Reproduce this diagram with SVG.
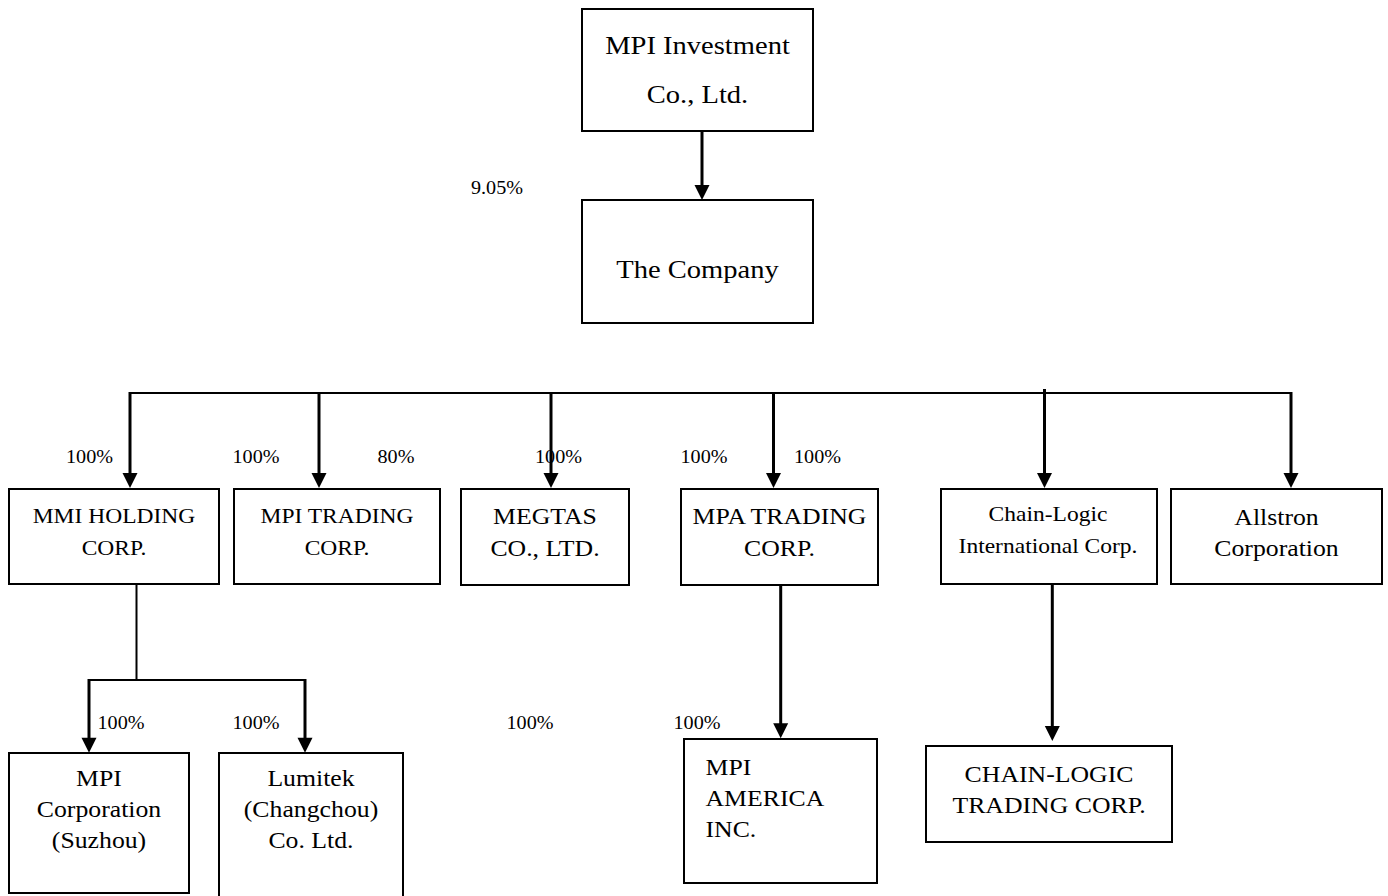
<svg xmlns="http://www.w3.org/2000/svg" width="1388" height="896" viewBox="0 0 1388 896">
<style>
  .box { fill: #ffffff; stroke: #000000; stroke-width: 2; }
  .thin { fill: none; stroke: #000000; stroke-width: 2; }
  .arr { fill: none; stroke: #000000; stroke-width: 3; marker-end: url(#ah); }
  text { font-family: "Liberation Serif", "Times New Roman", serif; fill: #000000; text-anchor: middle; }
  .big { font-size: 25.5px; }
  .n { font-size: 23px; }
  .s { font-size: 21px; }
  .p { font-size: 18px; }
  .l { text-anchor: start; }
</style>
<defs>
  <marker id="ah" markerUnits="userSpaceOnUse" markerWidth="16" markerHeight="16" viewBox="0 0 15 16" refX="5" refY="8" orient="auto">
    <path d="M0,0.5 L15,8 L0,15.5 z" fill="#000000"/>
  </marker>
</defs>

<g id="connectors">
  <line class="arr" x1="702" y1="131" x2="702" y2="190"/>
  <line class="thin" x1="130" y1="393" x2="1291" y2="393"/>
  <line class="arr" x1="130" y1="392" x2="130" y2="478"/>
  <line class="arr" x1="319" y1="393" x2="319" y2="478"/>
  <line class="arr" x1="551" y1="393" x2="551" y2="478"/>
  <line class="arr" x1="773.5" y1="393" x2="773.5" y2="478"/>
  <line class="arr" x1="1044.5" y1="389" x2="1044.5" y2="478"/>
  <line class="arr" x1="1291" y1="392" x2="1291" y2="478"/>
  <path class="thin" d="M136.5,584 V680 M89,680 H305"/>
  <line class="arr" x1="89" y1="679" x2="89" y2="742.7"/>
  <line class="arr" x1="305" y1="679" x2="305" y2="742.7"/>
  <line class="arr" x1="780.7" y1="585" x2="780.7" y2="728.3"/>
  <line class="arr" x1="1052.3" y1="584" x2="1052.3" y2="731"/>
</g>

<g id="labels">
  <text class="p" transform="translate(497,194) scale(1.12,1)">9.05%</text>
  <text class="p" transform="translate(89.5,463) scale(1.12,1)">100%</text>
  <text class="p" transform="translate(256,463) scale(1.12,1)">100%</text>
  <text class="p" transform="translate(396,463) scale(1.12,1)">80%</text>
  <text class="p" transform="translate(558.5,463) scale(1.12,1)">100%</text>
  <text class="p" transform="translate(704,463) scale(1.12,1)">100%</text>
  <text class="p" transform="translate(817.5,463) scale(1.12,1)">100%</text>
  <text class="p" transform="translate(121,729) scale(1.12,1)">100%</text>
  <text class="p" transform="translate(256,729) scale(1.12,1)">100%</text>
  <text class="p" transform="translate(530,729) scale(1.12,1)">100%</text>
  <text class="p" transform="translate(697,729) scale(1.12,1)">100%</text>
</g>

<g id="mpi-investment">
  <rect class="box" x="582" y="9" width="231" height="122"/>
  <text class="big" transform="translate(697.5,54) scale(1.12,1)">MPI Investment</text>
  <text class="big" transform="translate(697.5,103) scale(1.12,1)">Co., Ltd.</text>
</g>

<g id="the-company">
  <rect class="box" x="582" y="200" width="231" height="123"/>
  <text class="big" transform="translate(697.5,278) scale(1.12,1)">The Company</text>
</g>

<g id="mmi-holding">
  <rect class="box" x="9" y="489" width="210" height="95"/>
  <text class="s" transform="translate(114,522.5) scale(1.12,1)">MMI HOLDING</text>
  <text class="s" transform="translate(114,554.5) scale(1.12,1)">CORP.</text>
</g>

<g id="mpi-trading">
  <rect class="box" x="234" y="489" width="206" height="95"/>
  <text class="s" transform="translate(337,522.5) scale(1.12,1)">MPI TRADING</text>
  <text class="s" transform="translate(337,554.5) scale(1.12,1)">CORP.</text>
</g>

<g id="megtas">
  <rect class="box" x="461" y="489" width="168" height="96"/>
  <text class="n" transform="translate(545,524) scale(1.12,1)">MEGTAS</text>
  <text class="n" transform="translate(545,556) scale(1.12,1)">CO., LTD.</text>
</g>

<g id="mpa-trading">
  <rect class="box" x="681" y="489" width="197" height="96"/>
  <text class="n" transform="translate(779.5,524) scale(1.12,1)">MPA TRADING</text>
  <text class="n" transform="translate(779.5,556) scale(1.12,1)">CORP.</text>
</g>

<g id="chain-logic-intl">
  <rect class="box" x="941" y="489" width="216" height="95"/>
  <text class="s" transform="translate(1048,521) scale(1.12,1)">Chain-Logic</text>
  <text class="s" transform="translate(1048,553) scale(1.12,1)">International Corp.</text>
</g>

<g id="allstron">
  <rect class="box" x="1171" y="489" width="211" height="95"/>
  <text class="n" transform="translate(1276.5,525) scale(1.12,1)">Allstron</text>
  <text class="n" transform="translate(1276.5,556) scale(1.12,1)">Corporation</text>
</g>

<g id="mpi-suzhou">
  <rect class="box" x="9" y="753" width="180" height="140"/>
  <text class="n" transform="translate(99,786) scale(1.12,1)">MPI</text>
  <text class="n" transform="translate(99,817) scale(1.12,1)">Corporation</text>
  <text class="n" transform="translate(99,848) scale(1.12,1)">(Suzhou)</text>
</g>

<g id="lumitek">
  <rect class="box" x="219" y="753" width="184" height="150"/>
  <text class="n" transform="translate(311,786) scale(1.12,1)">Lumitek</text>
  <text class="n" transform="translate(311,817) scale(1.12,1)">(Changchou)</text>
  <text class="n" transform="translate(311,848) scale(1.12,1)">Co. Ltd.</text>
</g>

<g id="mpi-america">
  <rect class="box" x="684" y="739" width="193" height="144"/>
  <text class="n l" transform="translate(705.5,775) scale(1.12,1)">MPI</text>
  <text class="n l" transform="translate(705.5,806) scale(1.12,1)">AMERICA</text>
  <text class="n l" transform="translate(705.5,837) scale(1.12,1)">INC.</text>
</g>

<g id="chain-logic-trading">
  <rect class="box" x="926" y="746" width="246" height="96"/>
  <text class="n" transform="translate(1049,782) scale(1.12,1)">CHAIN-LOGIC</text>
  <text class="n" transform="translate(1049,813) scale(1.12,1)">TRADING CORP.</text>
</g>
</svg>
